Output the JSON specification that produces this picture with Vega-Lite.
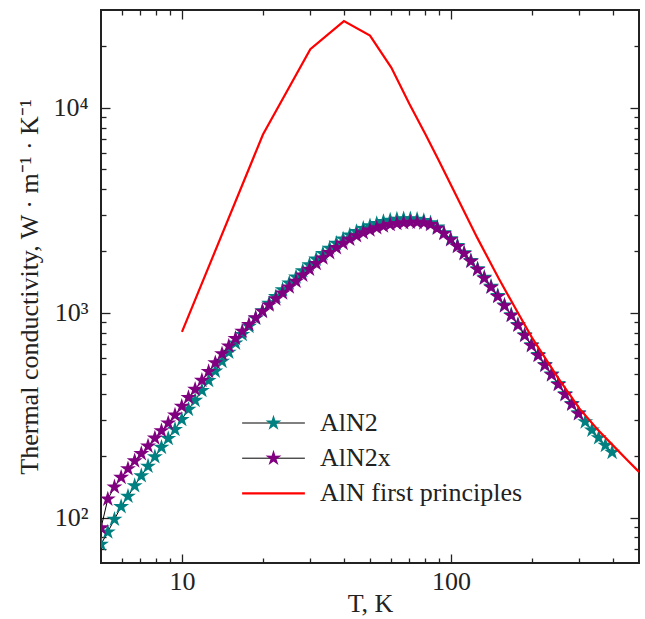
{
  "$schema": "https://vega.github.io/schema/vega-lite/v6.json",
  "width": 538,
  "height": 553,
  "autosize": {"type": "none"},
  "padding": {"left": 101, "top": 10, "right": 6, "bottom": 56},
  "background": "white",
  "config": {
    "view": {"stroke": "#222222", "strokeWidth": 2},
    "font": "Liberation Serif",
    "style": {
      "guide-label": {"font": "Liberation Serif", "fontSize": 26, "fill": "#222222"},
      "guide-title": {"font": "Liberation Serif", "fontSize": 26, "fill": "#222222", "fontWeight": "normal"}
    },
    "axis": {
      "domain": false, "grid": false,
      "labelFont": "Liberation Serif", "labelFontSize": 26, "labelColor": "#222222",
      "tickColor": "#222222", "tickWidth": 1.3,
      "titleFont": "Liberation Serif", "titleFontSize": 26, "titleFontWeight": "normal", "titleColor": "#222222"
    },
    "legend": {
      "labelFont": "Liberation Serif", "labelFontSize": 26, "labelColor": "#222222", "labelLimit": 400
    }
  },
  "datasets": {
    "teal": [
      {"series": "AlN2", "T": 5.00, "k": 74}, {"series": "AlN2", "T": 5.30, "k": 85}, {"series": "AlN2", "T": 5.61, "k": 98},
      {"series": "AlN2", "T": 5.94, "k": 113}, {"series": "AlN2", "T": 6.30, "k": 127}, {"series": "AlN2", "T": 6.67, "k": 143},
      {"series": "AlN2", "T": 7.06, "k": 160}, {"series": "AlN2", "T": 7.48, "k": 178}, {"series": "AlN2", "T": 7.93, "k": 198},
      {"series": "AlN2", "T": 8.39, "k": 220}, {"series": "AlN2", "T": 8.89, "k": 243}, {"series": "AlN2", "T": 9.42, "k": 269},
      {"series": "AlN2", "T": 9.98, "k": 301}, {"series": "AlN2", "T": 10.57, "k": 337}, {"series": "AlN2", "T": 11.19, "k": 373},
      {"series": "AlN2", "T": 11.86, "k": 417}, {"series": "AlN2", "T": 12.56, "k": 466}, {"series": "AlN2", "T": 13.30, "k": 518},
      {"series": "AlN2", "T": 14.09, "k": 578}, {"series": "AlN2", "T": 14.93, "k": 641}, {"series": "AlN2", "T": 15.81, "k": 710},
      {"series": "AlN2", "T": 16.75, "k": 782}, {"series": "AlN2", "T": 17.74, "k": 857}, {"series": "AlN2", "T": 18.79, "k": 938},
      {"series": "AlN2", "T": 19.91, "k": 1021}, {"series": "AlN2", "T": 21.09, "k": 1109}, {"series": "AlN2", "T": 22.34, "k": 1199},
      {"series": "AlN2", "T": 23.66, "k": 1294}, {"series": "AlN2", "T": 25.06, "k": 1393}, {"series": "AlN2", "T": 26.55, "k": 1493},
      {"series": "AlN2", "T": 28.12, "k": 1600}, {"series": "AlN2", "T": 29.79, "k": 1710}, {"series": "AlN2", "T": 31.55, "k": 1824},
      {"series": "AlN2", "T": 33.42, "k": 1941}, {"series": "AlN2", "T": 35.40, "k": 2061}, {"series": "AlN2", "T": 37.50, "k": 2178},
      {"series": "AlN2", "T": 39.72, "k": 2286}, {"series": "AlN2", "T": 42.07, "k": 2393}, {"series": "AlN2", "T": 44.57, "k": 2489},
      {"series": "AlN2", "T": 47.21, "k": 2576}, {"series": "AlN2", "T": 50.00, "k": 2655}, {"series": "AlN2", "T": 52.97, "k": 2723},
      {"series": "AlN2", "T": 56.10, "k": 2780}, {"series": "AlN2", "T": 59.43, "k": 2825}, {"series": "AlN2", "T": 62.95, "k": 2858},
      {"series": "AlN2", "T": 66.68, "k": 2871}, {"series": "AlN2", "T": 70.63, "k": 2871}, {"series": "AlN2", "T": 74.82, "k": 2851},
      {"series": "AlN2", "T": 79.25, "k": 2812}, {"series": "AlN2", "T": 83.95, "k": 2742}, {"series": "AlN2", "T": 88.92, "k": 2618},
      {"series": "AlN2", "T": 94.19, "k": 2455}, {"series": "AlN2", "T": 99.77, "k": 2291}, {"series": "AlN2", "T": 105.7, "k": 2123},
      {"series": "AlN2", "T": 111.9, "k": 1959}, {"series": "AlN2", "T": 118.6, "k": 1795}, {"series": "AlN2", "T": 125.6, "k": 1637},
      {"series": "AlN2", "T": 133.0, "k": 1486}, {"series": "AlN2", "T": 140.9, "k": 1343}, {"series": "AlN2", "T": 149.3, "k": 1211},
      {"series": "AlN2", "T": 158.1, "k": 1089}, {"series": "AlN2", "T": 167.5, "k": 977}, {"series": "AlN2", "T": 177.4, "k": 875},
      {"series": "AlN2", "T": 187.9, "k": 780}, {"series": "AlN2", "T": 199.1, "k": 697}, {"series": "AlN2", "T": 210.9, "k": 624},
      {"series": "AlN2", "T": 223.4, "k": 558}, {"series": "AlN2", "T": 236.6, "k": 501}, {"series": "AlN2", "T": 250.6, "k": 450},
      {"series": "AlN2", "T": 265.5, "k": 402}, {"series": "AlN2", "T": 281.2, "k": 360}, {"series": "AlN2", "T": 297.9, "k": 324},
      {"series": "AlN2", "T": 315.5, "k": 293}, {"series": "AlN2", "T": 334.2, "k": 267}, {"series": "AlN2", "T": 354.0, "k": 245},
      {"series": "AlN2", "T": 375.0, "k": 225}, {"series": "AlN2", "T": 397.2, "k": 208}
    ],
    "purple": [
      {"series": "AlN2x", "T": 5.00, "k": 89}, {"series": "AlN2x", "T": 5.30, "k": 123}, {"series": "AlN2x", "T": 5.61, "k": 141},
      {"series": "AlN2x", "T": 5.94, "k": 157}, {"series": "AlN2x", "T": 6.30, "k": 173}, {"series": "AlN2x", "T": 6.67, "k": 189},
      {"series": "AlN2x", "T": 7.06, "k": 205}, {"series": "AlN2x", "T": 7.48, "k": 223}, {"series": "AlN2x", "T": 7.93, "k": 244},
      {"series": "AlN2x", "T": 8.39, "k": 265}, {"series": "AlN2x", "T": 8.89, "k": 289}, {"series": "AlN2x", "T": 9.42, "k": 316},
      {"series": "AlN2x", "T": 9.98, "k": 349}, {"series": "AlN2x", "T": 10.57, "k": 385}, {"series": "AlN2x", "T": 11.19, "k": 422},
      {"series": "AlN2x", "T": 11.86, "k": 467}, {"series": "AlN2x", "T": 12.56, "k": 516}, {"series": "AlN2x", "T": 13.30, "k": 569},
      {"series": "AlN2x", "T": 14.09, "k": 630}, {"series": "AlN2x", "T": 14.93, "k": 687}, {"series": "AlN2x", "T": 15.81, "k": 748},
      {"series": "AlN2x", "T": 16.75, "k": 811}, {"series": "AlN2x", "T": 17.74, "k": 875}, {"series": "AlN2x", "T": 18.79, "k": 944},
      {"series": "AlN2x", "T": 19.91, "k": 1014}, {"series": "AlN2x", "T": 21.09, "k": 1089}, {"series": "AlN2x", "T": 22.34, "k": 1167},
      {"series": "AlN2x", "T": 23.66, "k": 1247}, {"series": "AlN2x", "T": 25.06, "k": 1334}, {"series": "AlN2x", "T": 26.55, "k": 1422},
      {"series": "AlN2x", "T": 28.12, "k": 1524}, {"series": "AlN2x", "T": 29.79, "k": 1629}, {"series": "AlN2x", "T": 31.55, "k": 1738},
      {"series": "AlN2x", "T": 33.42, "k": 1849}, {"series": "AlN2x", "T": 35.40, "k": 1963}, {"series": "AlN2x", "T": 37.50, "k": 2075},
      {"series": "AlN2x", "T": 39.72, "k": 2178}, {"series": "AlN2x", "T": 42.07, "k": 2280}, {"series": "AlN2x", "T": 44.57, "k": 2371},
      {"series": "AlN2x", "T": 47.21, "k": 2455}, {"series": "AlN2x", "T": 50.00, "k": 2529}, {"series": "AlN2x", "T": 52.97, "k": 2594},
      {"series": "AlN2x", "T": 56.10, "k": 2649}, {"series": "AlN2x", "T": 59.43, "k": 2692}, {"series": "AlN2x", "T": 62.95, "k": 2723},
      {"series": "AlN2x", "T": 66.68, "k": 2748}, {"series": "AlN2x", "T": 70.63, "k": 2761}, {"series": "AlN2x", "T": 74.82, "k": 2761},
      {"series": "AlN2x", "T": 79.25, "k": 2742}, {"series": "AlN2x", "T": 83.95, "k": 2692}, {"series": "AlN2x", "T": 88.92, "k": 2582},
      {"series": "AlN2x", "T": 94.19, "k": 2432}, {"series": "AlN2x", "T": 99.77, "k": 2270}, {"series": "AlN2x", "T": 105.7, "k": 2104},
      {"series": "AlN2x", "T": 111.9, "k": 1941}, {"series": "AlN2x", "T": 118.6, "k": 1778}, {"series": "AlN2x", "T": 125.6, "k": 1622},
      {"series": "AlN2x", "T": 133.0, "k": 1472}, {"series": "AlN2x", "T": 140.9, "k": 1330}, {"series": "AlN2x", "T": 149.3, "k": 1199},
      {"series": "AlN2x", "T": 158.1, "k": 1079}, {"series": "AlN2x", "T": 167.5, "k": 968}, {"series": "AlN2x", "T": 177.4, "k": 867},
      {"series": "AlN2x", "T": 187.9, "k": 773}, {"series": "AlN2x", "T": 199.1, "k": 690}, {"series": "AlN2x", "T": 210.9, "k": 618},
      {"series": "AlN2x", "T": 223.4, "k": 553}, {"series": "AlN2x", "T": 236.6, "k": 497}, {"series": "AlN2x", "T": 250.6, "k": 446},
      {"series": "AlN2x", "T": 265.5, "k": 398}, {"series": "AlN2x", "T": 281.2, "k": 357}, {"series": "AlN2x", "T": 297.9, "k": 321}
    ],
    "red": [
      {"series": "AlN first principles", "T": 10, "k": 805}, {"series": "AlN first principles", "T": 20, "k": 7400},
      {"series": "AlN first principles", "T": 30, "k": 19300}, {"series": "AlN first principles", "T": 40, "k": 26500},
      {"series": "AlN first principles", "T": 50, "k": 22500}, {"series": "AlN first principles", "T": 60, "k": 15700},
      {"series": "AlN first principles", "T": 70, "k": 10450}, {"series": "AlN first principles", "T": 80, "k": 7500},
      {"series": "AlN first principles", "T": 90, "k": 5550}, {"series": "AlN first principles", "T": 100, "k": 4200},
      {"series": "AlN first principles", "T": 125, "k": 2330}, {"series": "AlN first principles", "T": 150, "k": 1480},
      {"series": "AlN first principles", "T": 175, "k": 1030}, {"series": "AlN first principles", "T": 200, "k": 755},
      {"series": "AlN first principles", "T": 250, "k": 480}, {"series": "AlN first principles", "T": 300, "k": 341},
      {"series": "AlN first principles", "T": 350, "k": 270}, {"series": "AlN first principles", "T": 400, "k": 225},
      {"series": "AlN first principles", "T": 450, "k": 192}, {"series": "AlN first principles", "T": 500, "k": 167}
    ]
  },
  "layer": [
    {
      "data": {"name": "teal"},
      "mark": {"type": "line", "strokeWidth": 1, "clip": true},
      "encoding": {
        "x": {"field": "T", "type": "quantitative", "scale": {"type": "log", "domain": [5, 500]},
          "axis": {"orient": "bottom", "values": [10, 100], "format": "d", "tickSize": -9, "labelPadding": 14,
            "labelFont": "Liberation Serif", "labelFontSize": 26, "titleFont": "Liberation Serif", "titleFontSize": 26,
            "title": "T, K", "titlePadding": -4}},
        "y": {"field": "k", "type": "quantitative", "scale": {"type": "log", "domain": [60, 30000]},
          "axis": {"orient": "left", "values": [100, 1000, 10000], "tickSize": -9, "labelPadding": 22,
            "labelFont": "Liberation Serif", "labelFontSize": 26, "titleFont": "Liberation Serif", "titleFontSize": 26,
            "labelExpr": "datum.value === 100 ? '10²' : datum.value === 1000 ? '10³' : '10⁴'",
            "title": "Thermal conductivity, W · m⁻¹ · K⁻¹", "titlePadding": 10}},
        "color": {"field": "series", "type": "nominal",
          "scale": {"domain": ["AlN2", "AlN2x", "AlN first principles"], "range": ["#000000", "#000000", "#ff0000"]},
          "legend": {"orient": "none", "legendX": 159.5, "legendY": 400, "title": null, "padding": 0,
            "symbolType": "M-3.75,0H3.75", "symbolSize": 280, "symbolStrokeWidth": 1, "rowPadding": 9.2,
            "labelOffset": 33.5, "labelFont": "Liberation Serif", "labelFontSize": 26, "labelColor": "#222222",
            "encode": {"symbols": {"update": {"strokeWidth": {"signal": "datum.value === 'AlN first principles' ? 2.2 : 1"}}}}}}
      }
    },
    {
      "data": {"name": "teal"},
      "mark": {"type": "point", "filled": true, "opacity": 1, "size": 280, "strokeWidth": 0, "clip": true,
        "shape": "M0,-1L0.2235,-0.3075L0.951,-0.309L0.3614,0.1174L0.588,0.809L0,0.38L-0.588,0.809L-0.3614,0.1174L-0.951,-0.309L-0.2235,-0.3075Z"},
      "encoding": {
        "x": {"field": "T", "type": "quantitative", "scale": {"type": "log", "domain": [5, 500]},
          "axis": {"orient": "top", "values": [10, 100], "tickSize": -9, "labels": false, "title": null}},
        "y": {"field": "k", "type": "quantitative", "scale": {"type": "log", "domain": [60, 30000]},
          "axis": {"orient": "right", "values": [100, 1000, 10000], "tickSize": -9, "labels": false, "title": null}},
        "fill": {"field": "series", "type": "nominal",
          "scale": {"domain": ["AlN2", "AlN2x", "blank"], "range": ["#008080", "#800080", "rgba(0,0,0,0)"]},
          "legend": {"orient": "none", "legendX": 159.5, "legendY": 400, "title": null, "padding": 0,
            "symbolType": "M0,-1L0.2235,-0.3075L0.951,-0.309L0.3614,0.1174L0.588,0.809L0,0.38L-0.588,0.809L-0.3614,0.1174L-0.951,-0.309L-0.2235,-0.3075Z",
            "symbolSize": 280, "symbolStrokeWidth": 0, "symbolOpacity": 1, "rowPadding": 9.2,
            "labelOffset": 33.5, "labelFont": "Liberation Serif", "labelFontSize": 26, "labelOpacity": 0,
            "labelExpr": "datum.value === 'blank' ? 'AlN first principles' : datum.value"}}
      }
    },
    {
      "data": {"name": "purple"},
      "mark": {"type": "line", "strokeWidth": 1, "clip": true},
      "encoding": {
        "x": {"field": "T", "type": "quantitative", "scale": {"type": "log", "domain": [5, 500]},
          "axis": {"orient": "bottom", "values": [6, 7, 8, 9, 20, 30, 40, 50, 60, 70, 80, 90, 200, 300, 400], "tickSize": -5, "labels": false, "title": null}},
        "y": {"field": "k", "type": "quantitative", "scale": {"type": "log", "domain": [60, 30000]},
          "axis": {"orient": "left", "values": [70, 80, 90, 200, 300, 400, 500, 600, 700, 800, 900, 2000, 3000, 4000, 5000, 6000, 7000, 8000, 9000, 20000], "tickSize": -5, "labels": false, "title": null}},
        "color": {"field": "series", "type": "nominal",
          "scale": {"domain": ["AlN2", "AlN2x", "AlN first principles"], "range": ["#000000", "#000000", "#ff0000"]}}
      }
    },
    {
      "data": {"name": "purple"},
      "mark": {"type": "point", "filled": true, "opacity": 1, "size": 280, "strokeWidth": 0, "clip": true,
        "shape": "M0,-1L0.2235,-0.3075L0.951,-0.309L0.3614,0.1174L0.588,0.809L0,0.38L-0.588,0.809L-0.3614,0.1174L-0.951,-0.309L-0.2235,-0.3075Z"},
      "encoding": {
        "x": {"field": "T", "type": "quantitative", "scale": {"type": "log", "domain": [5, 500]},
          "axis": {"orient": "top", "values": [6, 7, 8, 9, 20, 30, 40, 50, 60, 70, 80, 90, 200, 300, 400], "tickSize": -5, "labels": false, "title": null}},
        "y": {"field": "k", "type": "quantitative", "scale": {"type": "log", "domain": [60, 30000]},
          "axis": {"orient": "right", "values": [70, 80, 90, 200, 300, 400, 500, 600, 700, 800, 900, 2000, 3000, 4000, 5000, 6000, 7000, 8000, 9000, 20000], "tickSize": -5, "labels": false, "title": null}},
        "fill": {"field": "series", "type": "nominal",
          "scale": {"domain": ["AlN2", "AlN2x", "blank"], "range": ["#008080", "#800080", "rgba(0,0,0,0)"]}}
      }
    },
    {
      "data": {"name": "red"},
      "mark": {"type": "line", "strokeWidth": 2.2, "clip": true},
      "encoding": {
        "x": {"field": "T", "type": "quantitative", "scale": {"type": "log", "domain": [5, 500]}, "axis": null},
        "y": {"field": "k", "type": "quantitative", "scale": {"type": "log", "domain": [60, 30000]}, "axis": null},
        "color": {"field": "series", "type": "nominal",
          "scale": {"domain": ["AlN2", "AlN2x", "AlN first principles"], "range": ["#000000", "#000000", "#ff0000"]}}
      }
    }
  ],
  "resolve": {"axis": {"x": "independent", "y": "independent"}}
}
